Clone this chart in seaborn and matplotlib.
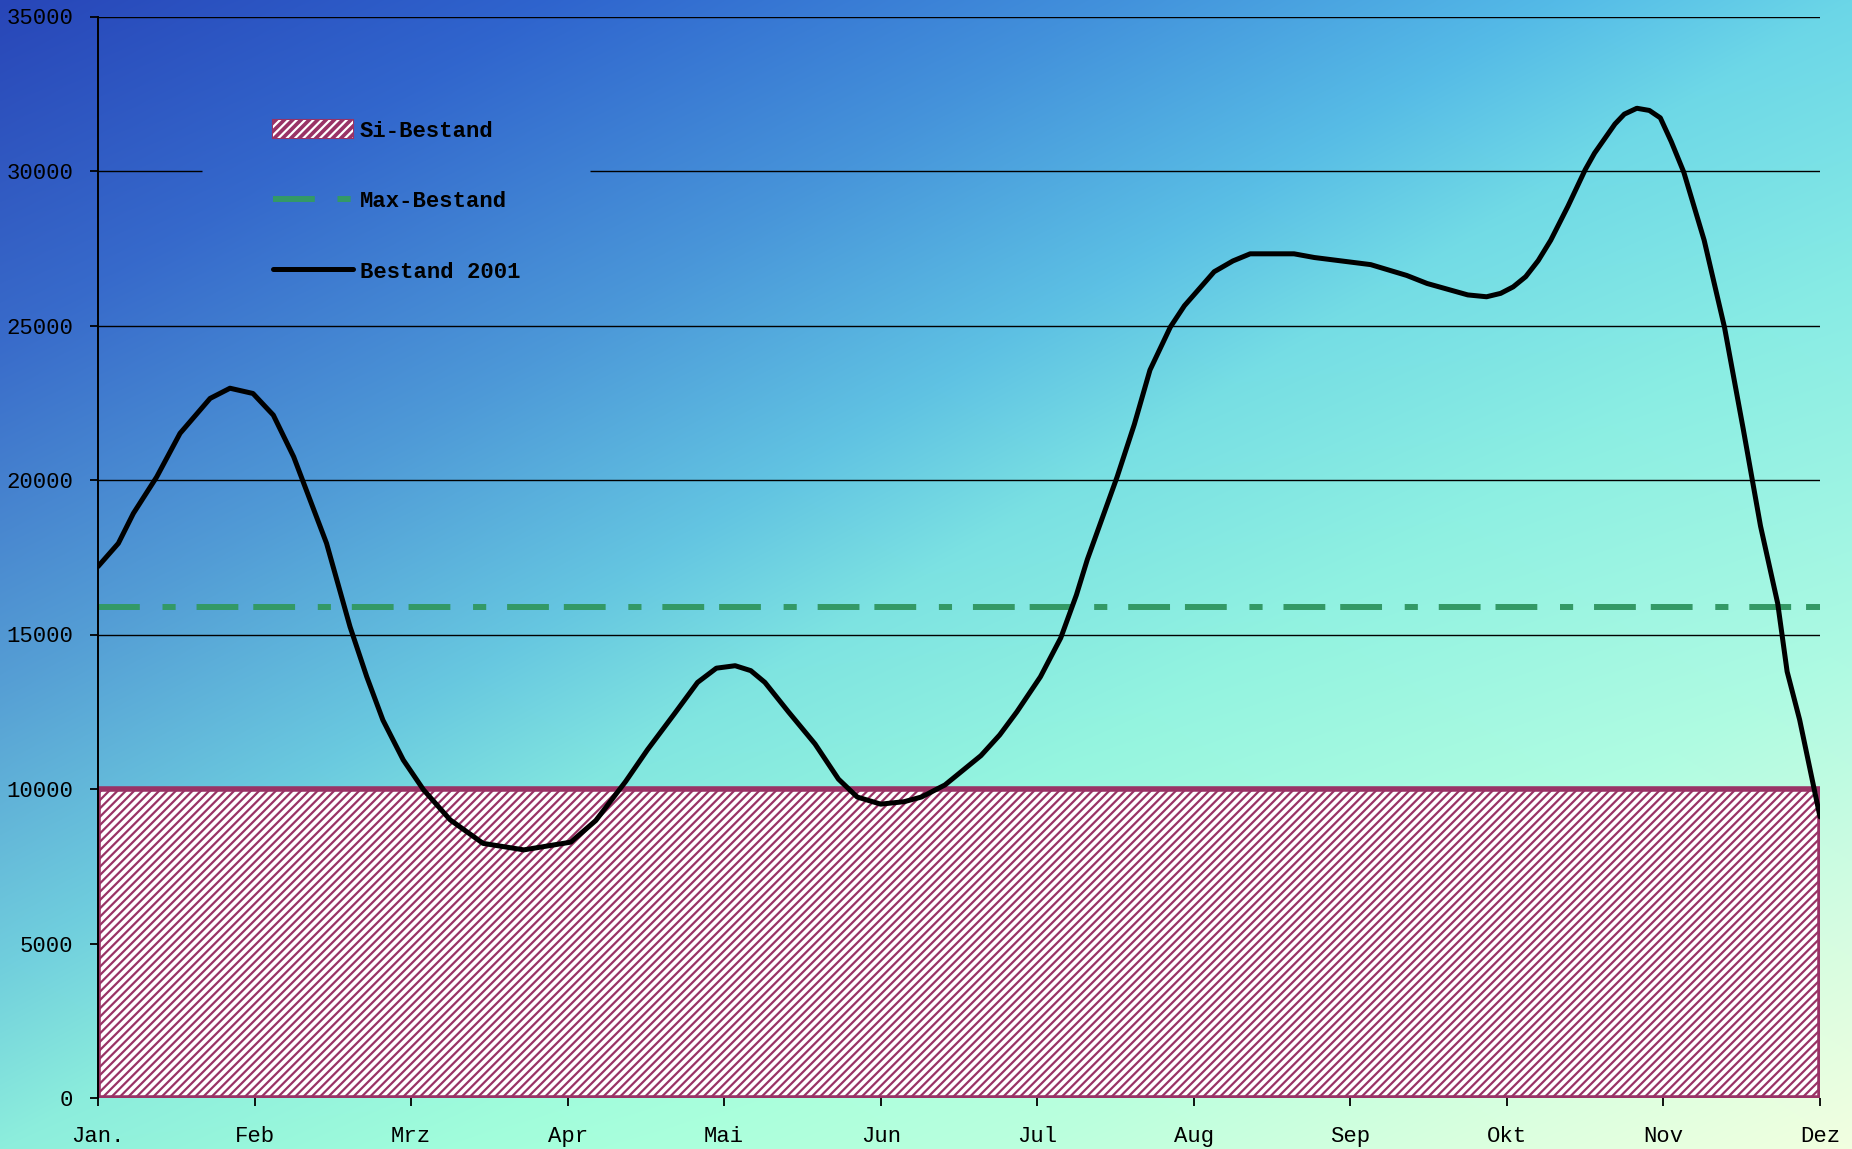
import numpy as np
import pandas as pd
import matplotlib
matplotlib.use("Agg")
import matplotlib.pyplot as plt
import matplotlib.colors as mcolors
import seaborn as sns
from matplotlib.patches import Patch
from matplotlib.lines import Line2D

# ---------------- data ----------------
month_labels = ["Jan.", "Feb", "Mrz", "Apr", "Mai", "Jun", "Jul", "Aug", "Sep", "Okt", "Nov", "Dez"]
month_pos = list(range(12))
si_bestand = [10000] * 12
max_bestand = [15900] * 12

bestand_x = [0, 0.13, 0.226, 0.375, 0.524, 0.716, 0.843, 0.99, 1.12, 1.25, 1.355, 1.46,
             1.61, 1.717, 1.82, 1.95, 2.08, 2.25, 2.46, 2.72, 3.02, 3.18, 3.37, 3.51,
             3.68, 3.83, 3.95, 4.07, 4.17, 4.26, 4.41, 4.58, 4.73, 4.85, 5.0, 5.15,
             5.26, 5.41, 5.64, 5.76, 5.87, 6.02, 6.15, 6.25, 6.32, 6.51, 6.62, 6.72,
             6.85, 6.94, 7.08, 7.13, 7.25, 7.36, 7.64, 7.77, 8.13, 8.36, 8.49, 8.75,
             8.87, 8.96, 9.04, 9.12, 9.2, 9.28, 9.39, 9.5, 9.56, 9.69, 9.75, 9.83, 9.91,
             9.98, 10.05, 10.13, 10.26, 10.39, 10.51, 10.62, 10.73, 10.79, 10.87, 11.0]
bestand_y = [17200, 17950, 18920, 20100, 21510, 22640, 22970, 22800, 22100, 20750, 19350, 17950,
             15250, 13630, 12230, 10940, 9970, 9000, 8240, 8030, 8280, 8980, 10240, 11270,
             12420, 13450, 13910, 13990, 13830, 13450, 12500, 11460, 10320, 9740, 9510, 9590,
             9740, 10130, 11080, 11750, 12500, 13630, 14890, 16280, 17430, 20100, 21800, 23560,
             24950, 25640, 26450, 26740, 27090, 27320, 27320, 27200, 26970, 26620, 26360, 25990,
             25930, 26040, 26250, 26580, 27100, 27760, 28860, 30040, 30580, 31520, 31840, 32030, 31960,
             31720, 30950, 29960, 27760, 24940, 21640, 18510, 16000, 13800, 12240, 9100]

y_ticks = [0, 5000, 10000, 15000, 20000, 25000, 30000, 35000]
legend_labels = ["Si-Bestand", "Max-Bestand", "Bestand 2001"]

# ---------------- style ----------------
sns.set_style("white")
plt.rcParams["font.family"] = ["Liberation Mono", "DejaVu Sans Mono"]
plt.rcParams["hatch.linewidth"] = 1.6

PLUM = "#993366"
SEAGREEN = "#339966"
DASH = (0, (7, 3.8, 2.2, 3.5, 7, 2.5))

W, H = 1852, 1149
fig = plt.figure(figsize=(W / 100, H / 100), dpi=100)

# background gradient
bg = fig.add_axes([0, 0, 1, 1], zorder=-10)
u = np.linspace(0, 1, W)[None, :]
v = np.linspace(0, 1, H)[:, None]
t = 0.5 * u + 0.5 * v
stops = [0.0, 0.15, 0.3, 0.42, 0.5, 0.62, 0.78, 0.9, 1.0]
cols = ["#2846b8", "#3468cc", "#4c98d8", "#62c4e2", "#7ce2e2", "#94f4e0", "#b4ffe0", "#d8ffe0", "#f2ffe0"]
rgb = np.array([mcolors.to_rgb(c) for c in cols])
img = np.zeros((H, W, 3))
for k in range(3):
    img[..., k] = np.interp(t, stops, rgb[:, k])
delta = np.array([17, 12, -6]) / 255.0
img = np.clip(img + (v - u)[..., None] * delta[None, None, :], 0, 1)
bg.imshow(img, aspect="auto", extent=[0, 1, 0, 1], origin="upper")
bg.set_axis_off()

ax = fig.add_axes([98 / W, 1 - 1098 / H, (1820 - 98) / W, (1098 - 16.5) / H])
ax.set_facecolor("none")
ax.set_xlim(0, 11)
ax.set_ylim(0, 35000)

# gridlines (30000 line interrupted by the legend box)
for yv in y_ticks[1:]:
    if yv == 30000:
        ax.hlines(yv, 0, 0.665, color="black", lw=1.0, zorder=1)
        ax.hlines(yv, 3.14, 11, color="black", lw=1.0, zorder=1)
    else:
        ax.hlines(yv, 0, 11, color="black", lw=1.0, zorder=1)

# Si-Bestand hatched area
ax.fill_between(month_pos, 0, si_bestand, facecolor="white", edgecolor=PLUM,
                hatch="////", lw=4, zorder=2)

df = pd.DataFrame({"x": bestand_x, "y": bestand_y})
dfm = pd.DataFrame({"x": month_pos, "y": max_bestand})
sns.lineplot(data=dfm, x="x", y="y", ax=ax, color=SEAGREEN, lw=4.3,
             linestyle=DASH, zorder=3)
ax.lines[-1].set_dash_capstyle("butt")
sns.lineplot(data=df, x="x", y="y", ax=ax, color="black", lw=3.6, sort=False, zorder=4)
ax.lines[-1].set_solid_joinstyle("round")

ax.set_xticks(month_pos)
ax.set_xticklabels(month_labels)
ax.set_yticks(y_ticks)
ax.set_yticklabels([str(v_) for v_ in y_ticks])
ax.set_xlabel("")
ax.set_ylabel("")
ax.tick_params(axis="both", direction="out", length=6, width=1.3, color="black",
               labelsize=16, labelcolor="black")
ax.tick_params(axis="x", pad=14, bottom=True)
ax.tick_params(axis="y", pad=12, left=True)

for s in ["top", "right", "bottom"]:
    ax.spines[s].set_visible(False)
ax.spines["left"].set_color("black")
ax.spines["left"].set_linewidth(1.4)
ax.spines["left"].set_zorder(5)

# legend
h1 = (Patch(facecolor=PLUM, edgecolor=PLUM, lw=1.5),
      Patch(facecolor="none", edgecolor="white", hatch="////", lw=0))
h2 = Line2D([], [], color=SEAGREEN, lw=4.3, linestyle=DASH, dash_capstyle="butt")
h3 = Line2D([], [], color="black", lw=3.6, solid_capstyle="round")
leg = ax.legend([h1, h2, h3], legend_labels, loc="upper left",
                bbox_to_anchor=(0.1016, 0.904), frameon=False, borderpad=0,
                borderaxespad=0, handlelength=3.6, handleheight=0.85,
                handletextpad=0.3, labelspacing=2.2,
                prop={"family": ["Liberation Mono"], "weight": "bold", "size": 16})
for txt in leg.get_texts():
    txt.set_color("black")

fig.savefig("out.png", dpi=100)
